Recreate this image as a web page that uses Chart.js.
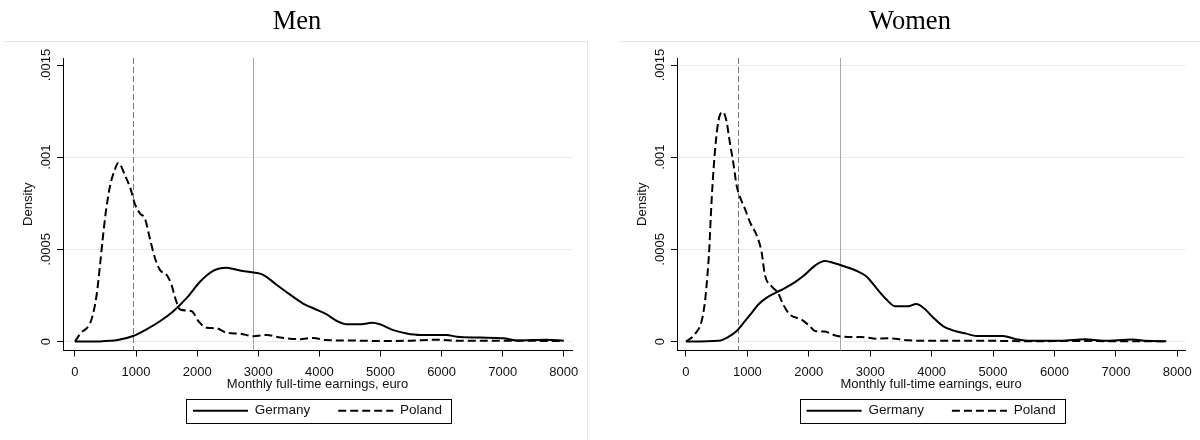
<!DOCTYPE html>
<html>
<head>
<meta charset="utf-8">
<script src="https://cdn.jsdelivr.net/npm/chart.js@4.4.0/dist/chart.umd.min.js"></script>
<style>
  html, body { margin: 0; padding: 0; background: #fff; }
  #wrap { position: relative; width: 1200px; height: 440px; overflow: hidden; }
  .frame { position: absolute; top: 41px; height: 420px; border-top: 1px solid #e6e6f4; }
  #frameL { left: 5px; width: 582px; border-right: 1px solid #e6e6f4; }
  #frameR { left: 619px; width: 600px; }
  canvas { position: absolute; top: 0; }
  #men { left: 0; }
  #women { left: 600px; }
</style>
</head>
<body>
<div id="wrap">
  <div class="frame" id="frameL"></div>
  <div class="frame" id="frameR"></div>
  <canvas id="men" width="600" height="440"></canvas>
  <canvas id="women" width="600" height="440"></canvas>
</div>
<script>
// tick values and labels
const xTicks = [0, 1000, 2000, 3000, 4000, 5000, 6000, 7000, 8000];
const yTicks = [0, 0.0005, 0.001, 0.0015];
const yTickLabels = ['0', '.0005', '.001', '.0015'];

// Men, Germany (kernel density)
const menGermanyX = [0, 400, 700, 950, 1170, 1390, 1610, 1830, 2050, 2260, 2480, 2700, 2920, 3080, 3300, 3520, 3740, 3960, 4120, 4280, 4450, 4690, 4860, 4990, 5210, 5430, 5650, 6080, 6250, 6630, 7010, 7230, 7720, 8000];
const menGermanyY = [0, 0.000001, 0.000008, 0.00003, 0.000066, 0.00011, 0.000165, 0.000237, 0.000326, 0.000384, 0.000401, 0.000385, 0.000375, 0.000362, 0.000308, 0.000255, 0.000205, 0.000172, 0.000147, 0.000113, 0.000094, 0.000094, 0.000102, 0.000094, 0.000062, 0.000044, 0.000036, 0.000036, 0.000026, 0.000022, 0.000018, 0.000006, 0.00001, 0.000005];

// Men, Poland
const menPolandX = [0, 80, 270, 355, 410, 455, 505, 575, 645, 710, 820, 910, 980, 1065, 1145, 1225, 1310, 1390, 1500, 1580, 1640, 1720, 1910, 2020, 2155, 2320, 2480, 2700, 2920, 3140, 3360, 3680, 3900, 4100, 4500, 5000, 5500, 5900, 6300, 7000, 7500, 8000];
const menPolandY = [0, 0.00004, 0.00012, 0.000254, 0.000416, 0.00056, 0.000703, 0.000846, 0.000926, 0.00097, 0.0009, 0.000828, 0.000747, 0.000694, 0.000667, 0.00056, 0.000452, 0.000389, 0.000362, 0.000308, 0.000237, 0.000174, 0.000165, 0.000111, 0.000075, 0.000072, 0.000048, 0.000043, 0.000029, 0.000036, 0.000022, 0.000013, 0.00002, 0.000008, 0.000006, 0.000003, 0.000005, 0.00001, 0.000004, 0.000005, 0.000004, 0.000003];

// Women, Germany
const womenGermanyX = [0, 530, 690, 825, 960, 1070, 1175, 1310, 1450, 1610, 1770, 1935, 2100, 2260, 2420, 2585, 2775, 2940, 3100, 3265, 3400, 3615, 3750, 3885, 4020, 4185, 4345, 4565, 4730, 5160, 5380, 5590, 6100, 6500, 6800, 7270, 7500, 7820];
const womenGermanyY = [0, 0.000004, 0.000025, 0.000057, 0.000111, 0.000156, 0.0002, 0.000237, 0.000263, 0.00029, 0.000321, 0.000362, 0.000412, 0.000437, 0.000425, 0.000407, 0.000384, 0.000353, 0.00029, 0.000228, 0.000192, 0.000192, 0.000204, 0.000178, 0.000132, 0.000084, 0.000061, 0.000043, 0.00003, 0.00003, 0.000013, 0.000004, 0.000004, 0.000012, 0.000004, 0.000011, 0.000004, 0.000002];

// Women, Poland
const womenPolandX = [0, 145, 255, 310, 350, 380, 405, 435, 470, 515, 555, 605, 660, 715, 770, 825, 880, 960, 1040, 1150, 1230, 1285, 1395, 1500, 1585, 1690, 1880, 2015, 2100, 2260, 2420, 2640, 2855, 3075, 3290, 3615, 4020, 5000, 5500, 6500, 7000, 7820];
const womenPolandY = [0, 0.00004, 0.000111, 0.000219, 0.000362, 0.000505, 0.000684, 0.000864, 0.001025, 0.001168, 0.001231, 0.001244, 0.001195, 0.001079, 0.000971, 0.000846, 0.000783, 0.00072, 0.000649, 0.000577, 0.000488, 0.000362, 0.000299, 0.000263, 0.0002, 0.000147, 0.00012, 0.000084, 0.000057, 0.000054, 0.000034, 0.000025, 0.000025, 0.000016, 0.000018, 0.000007, 0.000004, 0.000004, 0.000002, 0.000003, 0.000002, 0.000002];

// vertical reference lines (Poland dashed, Germany solid)
const menRefLines = [950, 2910];
const womenRefLines = [845, 2505];

const GRID = '#e8e8f6';
const INK = '#111';
Chart.defaults.font.family = "'Liberation Sans', Arial, sans-serif";
Chart.defaults.font.size = 13;
Chart.defaults.color = INK;

function pts(xs, ys) {
  return xs.map((x, i) => ({ x: x, y: ys[i] }));
}

// draws the two vertical reference lines
const refLinePlugin = {
  id: 'refLines',
  beforeDatasetsDraw(chart, args, opts) {
    const { ctx, chartArea } = chart;
    const xs = chart.scales.x;
    ctx.save();
    ctx.lineWidth = 1;
    opts.values.forEach((v, i) => {
      const px = Math.round(xs.getPixelForValue(v)) + 0.5;
      ctx.strokeStyle = i === 0 ? '#7a7a7a' : '#a8a8a8';
      ctx.setLineDash(i === 0 ? [6, 3] : []);
      ctx.beginPath();
      ctx.moveTo(px, chartArea.top);
      ctx.lineTo(px, chartArea.bottom);
      ctx.stroke();
    });
    ctx.restore();
  }
};

// box round the legend
const legendBoxPlugin = {
  id: 'legendBox',
  afterDraw(chart) {
    const hb = chart.legend && chart.legend.legendHitBoxes;
    if (!hb || !hb.length) return;
    const last = hb[hb.length - 1];
    const left = Math.round(hb[0].left - 7) + 0.5;
    const right = Math.round(last.left + last.width + 9) + 0.5;
    const cy = hb[0].top + hb[0].height / 2;
    const top = Math.round(cy - 12) + 0.5;
    const ctx = chart.ctx;
    ctx.save();
    ctx.strokeStyle = '#000';
    ctx.lineWidth = 1;
    ctx.strokeRect(left, top, right - left, 24);
    ctx.restore();
  }
};

// legend items keep the dataset's line dash and width
function legendLabels(chart) {
  const items = Chart.defaults.plugins.legend.labels.generateLabels(chart);
  items.forEach(it => {
    const ds = chart.data.datasets[it.datasetIndex];
    it.lineDash = ds.borderDash || [];
    it.lineWidth = ds.borderWidth;
    it.strokeStyle = ds.borderColor;
    it.pointStyle = 'line';
  });
  return items;
}

function makeChart(id, title, gX, gY, pX, pY, refs, lay) {
  return new Chart(document.getElementById(id), {
    type: 'line',
    data: {
      datasets: [
        { label: 'Germany', data: pts(gX, gY), borderColor: '#000', borderWidth: 2, pointRadius: 0, cubicInterpolationMode: 'monotone', fill: false },
        { label: 'Poland', data: pts(pX, pY), borderColor: '#000', borderWidth: 2, borderDash: [8, 4], pointRadius: 0, cubicInterpolationMode: 'monotone', fill: false }
      ]
    },
    options: {
      responsive: false,
      animation: false,
      devicePixelRatio: 1,
      layout: { padding: { left: lay.padL, right: lay.padR, top: 0, bottom: 12.5 } },
      plugins: {
        title: {
          display: true, text: title, color: '#000',
          font: { family: "'Liberation Serif', 'Times New Roman', serif", size: 26.5, weight: 'normal' },
          padding: { top: 6, bottom: 20.2 }
        },
        legend: {
          position: 'bottom', fullSize: false,
          labels: {
            usePointStyle: true, pointStyle: 'line', pointStyleWidth: 55,
            padding: 28, color: INK, font: { size: 13.5 },
            generateLabels: legendLabels
          }
        },
        tooltip: { enabled: false },
        refLines: { values: refs }
      },
      scales: {
        x: {
          type: 'linear', min: lay.xMin, max: lay.xMax,
          afterBuildTicks: s => { s.ticks = xTicks.map(v => ({ value: v })); },
          afterFit: s => { s.height = 25.5; },
          ticks: { padding: 8, maxRotation: 0, autoSkip: false, color: INK, callback: v => String(v) },
          grid: { drawOnChartArea: false, drawTicks: true, tickLength: 6, tickColor: '#000', tickWidth: 1 },
          border: { color: '#000', width: 1 },
          title: { display: true, text: 'Monthly full-time earnings, euro', color: INK, padding: { top: 0, bottom: -16.3 } }
        },
        y: {
          type: 'linear', min: -0.0000484, max: 0.001538,
          afterBuildTicks: s => { s.ticks = yTicks.map(v => ({ value: v })); },
          afterFit: s => { s.width = lay.yW; },
          ticks: {
            minRotation: 90, maxRotation: 90, crossAlign: 'center', padding: -5.8, color: INK,
            callback: (v, i) => yTickLabels[i]
          },
          grid: {
            color: c => (lay.skipTop && c.tick && c.tick.value === 0.0015) ? 'rgba(0,0,0,0)' : GRID,
            tickColor: '#000', tickLength: 6, lineWidth: 1
          },
          border: { color: '#000', width: 1 },
          title: { display: true, text: 'Density', color: INK, padding: { top: lay.titlePad, bottom: 0 } }
        }
      }
    },
    plugins: [refLinePlugin, legendBoxPlugin]
  });
}

makeChart('men', 'Men', menGermanyX, menGermanyY, menPolandX, menPolandY, menRefLines,
  { padL: 22, padR: 28, yW: 41, xMin: -196, xMax: 8134, titlePad: -1.8, skipTop: true });
makeChart('women', 'Women', womenGermanyX, womenGermanyY, womenPolandX, womenPolandY, womenRefLines,
  { padL: 34, padR: 14, yW: 43, xMin: -146, xMax: 8130, titlePad: 0.2, skipTop: false });
</script>
</body>
</html>
